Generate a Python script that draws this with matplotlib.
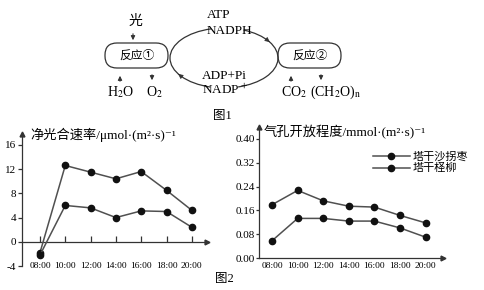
import numpy as np
import matplotlib
matplotlib.use('Agg')
import matplotlib.pyplot as plt
from matplotlib.patches import Arc, FancyBboxPatch

plt.rcParams['font.family'] = ['Liberation Serif', 'Noto Sans CJK SC', 'DejaVu Serif']
plt.rcParams['mathtext.fontset'] = 'stix'
plt.rcParams['axes.unicode_minus'] = False

W, H = 484, 290
LINE_COLOR = '#505050'
DOT_COLOR = '#111111'
AXIS_COLOR = '#333333'

# data
hours = ['08:00', '10:00', '12:00', '14:00', '16:00', '18:00', '20:00']
pn_shaguaizao = [-1.8, 12.6, 11.5, 10.4, 11.6, 8.5, 5.2]
pn_hongliu = [-2.2, 6.0, 5.6, 4.0, 5.1, 5.0, 2.4]
gs_shaguaizao = [0.179, 0.227, 0.192, 0.174, 0.171, 0.143, 0.118]
gs_hongliu = [0.058, 0.133, 0.133, 0.124, 0.124, 0.101, 0.070]
series_names = ['塔干沙拐枣', '塔干柽柳']
pn_ticks = [-4, 0, 4, 8, 12, 16]
gs_ticks = [0.00, 0.08, 0.16, 0.24, 0.32, 0.40]


def px_box(left, top, right, bottom):
    return [left / W, 1 - bottom / H, (right - left) / W, (bottom - top) / H]


fig = plt.figure(figsize=(W / 100, H / 100), dpi=100)

#
# figure 1: the diagram, drawn in pixel coordinates
#
ax0 = fig.add_axes([0, 0, 1, 1])
ax0.set_xlim(0, W)
ax0.set_ylim(H, 0)
ax0.axis('off')

for x0 in (105, 278):
    ax0.add_patch(FancyBboxPatch((x0, 43), 63, 25,
                                 boxstyle='round,pad=0,rounding_size=12',
                                 fc='none', ec=AXIS_COLOR, lw=0.9))
ax0.text(137, 56, '反应①', ha='center', va='center', fontsize=8.5)
ax0.text(310, 56, '反应②', ha='center', va='center', fontsize=8.5)

cx, cy, a, b = 224, 58, 108, 60
ax0.add_patch(Arc((cx, cy), a, b, theta1=-55, theta2=64, color=AXIS_COLOR, lw=0.9))
ax0.add_patch(Arc((cx, cy), a, b, theta1=115, theta2=246, color=AXIS_COLOR, lw=0.9))


def ell(t):
    t = np.radians(t)
    return (cx + a / 2 * np.cos(t), cy + b / 2 * np.sin(t))


for t in (-32, 148):
    ax0.annotate('', xy=ell(t), xytext=ell(t - 5),
                 arrowprops=dict(arrowstyle='-|>', mutation_scale=7,
                                 color=AXIS_COLOR, lw=0.6))


def small_arrow(x, y_from, y_to):
    ax0.annotate('', xy=(x, y_to), xytext=(x, y_from),
                 arrowprops=dict(arrowstyle='-|>', mutation_scale=6,
                                 color=AXIS_COLOR, lw=0.8))


small_arrow(133, 31, 43)
small_arrow(120, 84, 73)
small_arrow(152, 72, 83)
small_arrow(291, 84, 73)
small_arrow(321, 72, 83)

ax0.text(135, 21, '光', ha='center', va='center', fontsize=10)
ax0.text(121, 92, r'H$_2$O', ha='center', va='center', fontsize=10)
ax0.text(154, 92, r'O$_2$', ha='center', va='center', fontsize=10)
ax0.text(294, 92, r'CO$_2$', ha='center', va='center', fontsize=10)
ax0.text(336, 92, r'(CH$_2$O)$_\mathrm{n}$', ha='center', va='center', fontsize=10)
ax0.text(207, 15, 'ATP', ha='left', va='center', fontsize=9.5)
ax0.text(207, 31, 'NADPH', ha='left', va='center', fontsize=9.5)
ax0.text(202, 76, 'ADP+Pi', ha='left', va='center', fontsize=9.5)
ax0.text(202, 90, r'NADP$^{\,+}$', ha='left', va='center', fontsize=9.5)
ax0.text(222, 116, '图1', ha='center', va='center', fontsize=9)
ax0.text(224, 279, '图2', ha='center', va='center', fontsize=9)

#
# figure 2 left: net photosynthesis
#
x = np.arange(len(hours))
ax1 = fig.add_axes(px_box(22, 134, 207, 266))
ax1.patch.set_alpha(0)
ax1.set_xlim(-0.71, 6.60)
ax1.set_ylim(-4, 17.8)
for s in ('top', 'right', 'bottom'):
    ax1.spines[s].set_visible(False)
ax1.spines['left'].set_color(AXIS_COLOR)
ax1.spines['left'].set_linewidth(0.9)
ax1.axhline(0, color=AXIS_COLOR, lw=0.9)
ax1.vlines(x, 0, 1.0, color=AXIS_COLOR, lw=0.9)
ax1.plot(1, 0, '>', color=AXIS_COLOR, ms=3.5, transform=ax1.get_yaxis_transform(), clip_on=False)
ax1.plot(0, 1, '^', color=AXIS_COLOR, ms=3.5, transform=ax1.transAxes, clip_on=False)
for vals in (pn_shaguaizao, pn_hongliu):
    ax1.plot(x, vals, color=LINE_COLOR, lw=1.1, marker='o', ms=4.5,
             mfc=DOT_COLOR, mec=DOT_COLOR, clip_on=False)
ax1.set_yticks(pn_ticks)
ax1.tick_params(axis='y', length=3, width=0.9, color=AXIS_COLOR, pad=1, labelsize=8)
ax1.set_xticks(x, hours)
ax1.tick_params(axis='x', length=0, pad=0, labelsize=6.8)
for lbl in ax1.get_xticklabels():
    lbl.set_va('center')
fig.text(30 / W, 1 - 135 / H, '净光合速率/μmol·(m²·s)⁻¹', ha='left', va='center', fontsize=9.5)

#
# figure 2 right: stomatal conductance
#
ax2 = fig.add_axes(px_box(259, 127, 443, 258))
ax2.patch.set_alpha(0)
ax2.set_xlim(-0.51, 6.68)
ax2.set_ylim(0, 0.44)
for s in ('top', 'right'):
    ax2.spines[s].set_visible(False)
for s in ('left', 'bottom'):
    ax2.spines[s].set_color(AXIS_COLOR)
    ax2.spines[s].set_linewidth(0.9)
ax2.plot(1, 0, '>', color=AXIS_COLOR, ms=3.5, transform=ax2.transAxes, clip_on=False)
ax2.plot(0, 1, '^', color=AXIS_COLOR, ms=3.5, transform=ax2.transAxes, clip_on=False)
for vals, name in zip((gs_shaguaizao, gs_hongliu), series_names):
    ax2.plot(x, vals, color=LINE_COLOR, lw=1.1, marker='o', ms=4.5,
             mfc=DOT_COLOR, mec=DOT_COLOR, label=name, clip_on=False)
ax2.set_yticks(gs_ticks, ['%.2f' % v for v in gs_ticks])
ax2.tick_params(axis='y', length=2, width=0.9, color=AXIS_COLOR, pad=1, labelsize=8)
ax2.set_xticks(x, hours)
ax2.tick_params(axis='x', length=0, pad=5.8, labelsize=6.8)
for lbl in ax2.get_xticklabels():
    lbl.set_va('center')
fig.text(264 / W, 1 - 132 / H, '气孔开放程度/mmol·(m²·s)⁻¹', ha='left', va='center', fontsize=9.5)
ax2.legend(loc='upper left', bbox_to_anchor=(373 / W, 1 - 152 / H),
           bbox_transform=fig.transFigure, frameon=False, fontsize=8,
           handlelength=3.3, handletextpad=0.3, labelspacing=0.1,
           borderpad=0, borderaxespad=0)

fig.savefig('out.png', dpi=100)
